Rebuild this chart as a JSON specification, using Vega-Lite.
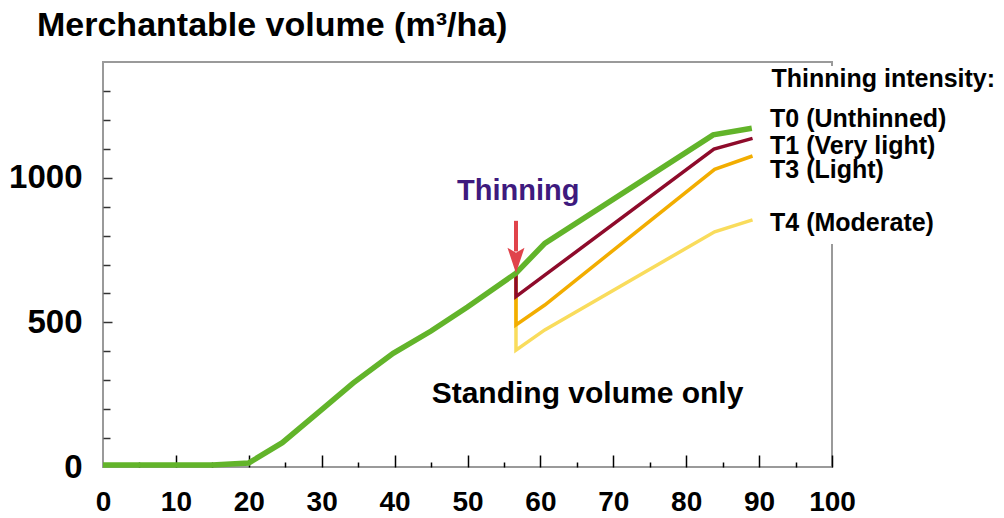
{
  "$schema": "https://vega.github.io/schema/vega-lite/v6.json",
  "autosize": "none",
  "width": 729,
  "height": 405,
  "padding": {"left": 103, "top": 62, "right": 172, "bottom": 51},
  "background": "white",
  "config": {
    "view": {"stroke": "#9a9a9a", "strokeWidth": 2},
    "font": "Liberation Sans",
    "axis": {"grid": false, "domain": false, "labelFont": "Liberation Sans", "labelFontWeight": "bold", "labelColor": "#000000", "labelFlush": false, "labelOverlap": false, "title": null}
  },
  "title": {
    "text": "Merchantable volume (m³/ha)",
    "anchor": "start",
    "frame": "group",
    "dx": -66,
    "offset": -8,
    "baseline": "alphabetic",
    "fontSize": 34,
    "fontWeight": "bold",
    "font": "Liberation Sans",
    "color": "#000000"
  },
  "datasets": {
    "curves": [
      {"series": "T0", "i": 1, "age": 0, "volume": 7},
      {"series": "T0", "i": 2, "age": 15, "volume": 7},
      {"series": "T0", "i": 3, "age": 20, "volume": 14},
      {"series": "T0", "i": 4, "age": 24.6, "volume": 84},
      {"series": "T0", "i": 5, "age": 30, "volume": 198},
      {"series": "T0", "i": 6, "age": 34.3, "volume": 290},
      {"series": "T0", "i": 7, "age": 39.8, "volume": 393},
      {"series": "T0", "i": 8, "age": 45, "volume": 470},
      {"series": "T0", "i": 9, "age": 50, "volume": 553},
      {"series": "T0", "i": 10, "age": 56.65, "volume": 670},
      {"series": "T0", "i": 11, "age": 60.6, "volume": 773},
      {"series": "T0", "i": 12, "age": 83.7, "volume": 1148},
      {"series": "T0", "i": 13, "age": 89, "volume": 1171},
      {"series": "T1", "i": 1, "age": 56.65, "volume": 670},
      {"series": "T1", "i": 2, "age": 56.65, "volume": 589},
      {"series": "T1", "i": 3, "age": 60.6, "volume": 663},
      {"series": "T1", "i": 4, "age": 83.8, "volume": 1099},
      {"series": "T1", "i": 5, "age": 89.1, "volume": 1136},
      {"series": "T3", "i": 1, "age": 56.65, "volume": 670},
      {"series": "T3", "i": 2, "age": 56.65, "volume": 491},
      {"series": "T3", "i": 3, "age": 60.6, "volume": 560},
      {"series": "T3", "i": 4, "age": 83.9, "volume": 1029},
      {"series": "T3", "i": 5, "age": 89.1, "volume": 1075},
      {"series": "T4", "i": 1, "age": 56.65, "volume": 670},
      {"series": "T4", "i": 2, "age": 56.65, "volume": 404},
      {"series": "T4", "i": 3, "age": 60.6, "volume": 474},
      {"series": "T4", "i": 4, "age": 83.9, "volume": 813},
      {"series": "T4", "i": 5, "age": 89.1, "volume": 854}
    ]
  },
  "resolve": {"axis": {"x": "independent", "y": "independent"}},
  "layer": [
    {
      "data": {"name": "curves"},
      "transform": [{"filter": "datum.series === 'T4'"}],
      "mark": {"type": "line", "color": "#f9dc5c", "strokeWidth": 3.5},
      "encoding": {
        "x": {"field": "age", "type": "quantitative", "scale": {"domain": [0, 100], "nice": false},
          "axis": {"orient": "bottom", "values": [0, 10, 20, 30, 40, 50, 60, 70, 80, 90, 100], "ticks": false, "labelPadding": 21, "labelFontSize": 28}},
        "y": {"field": "volume", "type": "quantitative", "scale": {"domain": [0, 1400], "nice": false},
          "axis": {"orient": "left", "values": [0, 500, 1000], "format": "d", "ticks": false, "labelPadding": 21, "labelFontSize": 33}},
        "order": {"field": "i", "type": "quantitative"}
      }
    },
    {
      "data": {"name": "curves"},
      "transform": [{"filter": "datum.series === 'T3'"}],
      "mark": {"type": "line", "color": "#f2ad00", "strokeWidth": 3.5},
      "encoding": {
        "x": {"field": "age", "type": "quantitative",
          "axis": {"orient": "bottom", "values": [10, 20, 30, 40, 50, 60, 70, 80, 90, 100], "labels": false, "tickSize": -12, "tickColor": "#000000", "tickWidth": 1.5}},
        "y": {"field": "volume", "type": "quantitative",
          "axis": {"orient": "left", "values": [500, 1000], "labels": false, "tickSize": -9, "tickColor": "#333333", "tickWidth": 1.5}},
        "order": {"field": "i", "type": "quantitative"}
      }
    },
    {
      "data": {"name": "curves"},
      "transform": [{"filter": "datum.series === 'T1'"}],
      "mark": {"type": "line", "color": "#8e0b2b", "strokeWidth": 3.5},
      "encoding": {
        "x": {"field": "age", "type": "quantitative",
          "axis": {"orient": "bottom", "values": [5, 15, 25, 35, 45, 55, 65, 75, 85, 95], "labels": false, "tickSize": -5, "tickColor": "#000000", "tickWidth": 1.5}},
        "y": {"field": "volume", "type": "quantitative",
          "axis": {"orient": "left", "values": [100, 200, 300, 400, 600, 700, 800, 900, 1100, 1200, 1300], "labels": false, "tickSize": -7, "tickColor": "#333333", "tickWidth": 1.5}},
        "order": {"field": "i", "type": "quantitative"}
      }
    },
    {
      "data": {"name": "curves"},
      "transform": [{"filter": "datum.series === 'T0'"}],
      "mark": {"type": "line", "color": "#62b42a", "strokeWidth": 5.5},
      "encoding": {
        "x": {"field": "age", "type": "quantitative", "axis": null},
        "y": {"field": "volume", "type": "quantitative", "axis": null},
        "order": {"field": "i", "type": "quantitative"}
      }
    },
    {
      "data": {"values": [{"age": 56.65, "top": 851, "bottom": 745}]},
      "mark": {"type": "rule", "color": "#e0434b", "strokeWidth": 4},
      "encoding": {
        "x": {"field": "age", "type": "quantitative", "axis": null},
        "y": {"field": "top", "type": "quantitative", "axis": null},
        "y2": {"field": "bottom"}
      }
    },
    {
      "data": {"values": [{"age": 56.65, "volume": 714}]},
      "mark": {"type": "point", "shape": "M0,1.5L-1,-1.5L0,-0.9L1,-1.5Z", "size": 289, "filled": true, "color": "#e0434b", "opacity": 1},
      "encoding": {
        "x": {"field": "age", "type": "quantitative", "axis": null},
        "y": {"field": "volume", "type": "quantitative", "axis": null}
      }
    },
    {
      "data": {"values": [{"age": 56.97, "volume": 954, "label": "Thinning"}]},
      "mark": {"type": "text", "align": "center", "baseline": "middle", "fontSize": 29, "fontWeight": "bold", "font": "Liberation Sans", "color": "#3e1a7e"},
      "encoding": {
        "x": {"field": "age", "type": "quantitative", "axis": null},
        "y": {"field": "volume", "type": "quantitative", "axis": null},
        "text": {"field": "label"}
      }
    },
    {
      "data": {"values": [{"age": 66.46, "volume": 254, "label": "Standing volume only"}]},
      "mark": {"type": "text", "align": "center", "baseline": "middle", "fontSize": 30, "fontWeight": "bold", "font": "Liberation Sans", "color": "#000000"},
      "encoding": {
        "x": {"field": "age", "type": "quantitative", "axis": null},
        "y": {"field": "volume", "type": "quantitative", "axis": null},
        "text": {"field": "label"}
      }
    },
    {
      "data": {"values": [{"left": 90.1, "right": 125, "top": 1386, "bottom": 771}]},
      "mark": {"type": "rect", "color": "#ffffff", "opacity": 1},
      "encoding": {
        "x": {"field": "left", "type": "quantitative", "axis": null},
        "x2": {"field": "right"},
        "y": {"field": "top", "type": "quantitative", "axis": null},
        "y2": {"field": "bottom"}
      }
    },
    {
      "data": {"values": [{"age": 91.7, "volume": 1340, "label": "Thinning intensity:"}]},
      "mark": {"type": "text", "align": "left", "baseline": "middle", "fontSize": 25, "fontWeight": "bold", "font": "Liberation Sans", "color": "#000000"},
      "encoding": {
        "x": {"field": "age", "type": "quantitative", "axis": null},
        "y": {"field": "volume", "type": "quantitative", "axis": null},
        "text": {"field": "label"}
      }
    },
    {
      "data": {"values": [
        {"age": 91.5, "volume": 1202, "label": "T0 (Unthinned)"},
        {"age": 91.5, "volume": 1110, "label": "T1 (Very light)"},
        {"age": 91.5, "volume": 1025, "label": "T3 (Light)"},
        {"age": 91.5, "volume": 845, "label": "T4 (Moderate)"}
      ]},
      "mark": {"type": "text", "align": "left", "baseline": "middle", "fontSize": 25, "fontWeight": "bold", "font": "Liberation Sans", "color": "#000000"},
      "encoding": {
        "x": {"field": "age", "type": "quantitative", "axis": null},
        "y": {"field": "volume", "type": "quantitative", "axis": null},
        "text": {"field": "label"}
      }
    }
  ]
}
